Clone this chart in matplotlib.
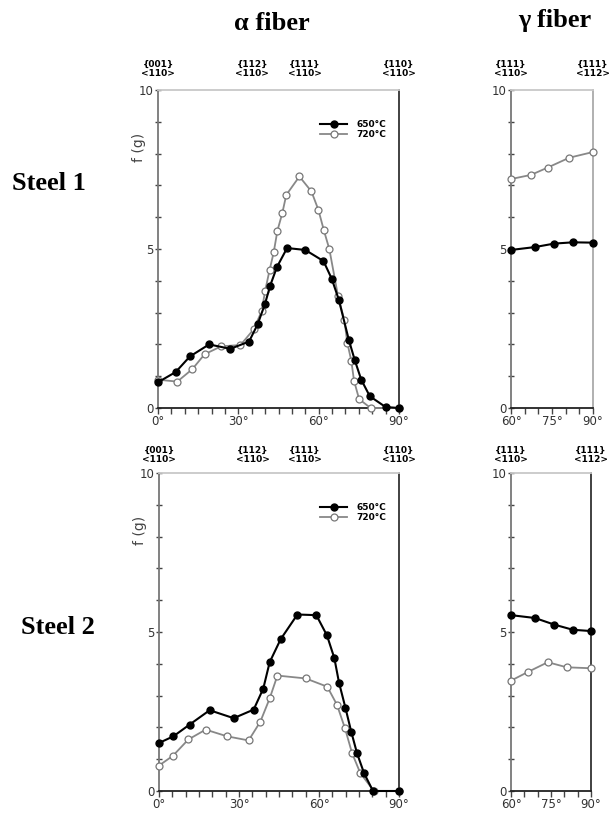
import matplotlib.pyplot as plt
import numpy as np

# alpha fiber, steel 1
a1_650_x = [0, 6.6, 11.9, 19.1, 27, 34, 37.2, 39.9, 41.9, 44.4, 48.2, 55, 61.8, 64.9,
            67.5, 71.3, 73.5, 75.9, 79.1, 85, 90]
a1_650_y = [0.81, 1.13, 1.62, 2.0, 1.86, 2.09, 2.63, 3.26, 3.85, 4.43, 5.03, 4.97, 4.62,
            4.06, 3.41, 2.13, 1.50, 0.89, 0.37, 0.03, 0.0]
a1_720_x = [0, 7.2, 12.8, 17.4, 23.6, 30.8, 35.7, 38.7, 40, 41.7, 43.2, 44.6, 46.4, 47.9,
            52.8, 57.3, 59.9, 61.9, 64, 67.2, 69.6, 70.7, 72.2, 73.2, 75.1, 79.4, 90]
a1_720_y = [0.89, 0.83, 1.22, 1.69, 1.94, 1.98, 2.47, 3.04, 3.68, 4.35, 4.89, 5.58, 6.12,
            6.70, 7.28, 6.81, 6.23, 5.60, 4.99, 3.53, 2.76, 2.05, 1.48, 0.86, 0.28, 0.0, 0.0]

# gamma fiber, steel 1
g1_650_x = [60, 68.7, 75.8, 82.7, 90]
g1_650_y = [4.97, 5.06, 5.17, 5.21, 5.20]
g1_720_x = [60, 67.3, 73.4, 81.3, 90]
g1_720_y = [7.2, 7.33, 7.56, 7.87, 8.05]

# alpha fiber, steel 2
a2_650_x = [0, 5.4, 11.5, 19, 28, 35.5, 39.1, 41.5, 45.6, 51.9, 59, 63, 65.75, 67.5,
            69.9, 72.1, 74.25, 76.9, 80.25, 90]
a2_650_y = [1.51, 1.72, 2.09, 2.54, 2.29, 2.56, 3.22, 4.05, 4.77, 5.55, 5.53, 4.89, 4.18,
            3.41, 2.62, 1.86, 1.19, 0.56, 0.0, 0.0]
a2_720_x = [0, 5.25, 11, 17.5, 25.5, 33.6, 38, 41.5, 44.4, 55, 63.1, 66.75, 69.75, 72.4,
            75.5, 80.6, 90]
a2_720_y = [0.80, 1.11, 1.62, 1.93, 1.72, 1.59, 2.18, 2.91, 3.63, 3.54, 3.28, 2.71, 1.97,
            1.19, 0.56, 0.0, 0.0]

# gamma fiber, steel 2
g2_650_x = [60, 69, 76.3, 83.2, 90]
g2_650_y = [5.53, 5.44, 5.23, 5.07, 5.03]
g2_720_x = [60, 66.5, 73.8, 80.9, 90]
g2_720_y = [3.47, 3.75, 4.05, 3.89, 3.86]

alpha_labels = [(0, '{001}\n<110>'), (35.26, '{112}\n<110>'), (54.74, '{111}\n<110>'),
                (90, '{110}\n<110>')]
gamma_labels = [(60, '{111}\n<110>'), (90, '{111}\n<112>')]

W, H = 610, 816
fig = plt.figure(figsize=(W / 100, H / 100), dpi=100)


def px_axes(l, t, r, b):
    return fig.add_axes([l / W, 1 - b / H, (r - l) / W, (b - t) / H])


def style(ax, xmin, xmax, xmajor, right_col):
    ax.set_xlim(xmin, xmax)
    ax.set_ylim(0, 10)
    ax.set_xticks(np.arange(xmin, xmax + 1, xmajor))
    ax.set_xticklabels(['%d°' % v for v in np.arange(xmin, xmax + 1, xmajor)])
    ax.set_xticks(np.arange(xmin, xmax + 1, 5), minor=True)
    ax.set_yticks([0, 5, 10])
    ax.set_yticks(np.arange(0, 11, 1), minor=True)
    ax.tick_params(axis='both', which='both', colors='#444', labelcolor='#333',
                   labelsize=8.5, width=1)
    ax.tick_params(axis='x', which='both', direction='out', length=4, pad=1)
    ax.tick_params(axis='y', which='both', direction='inout', length=5, pad=1)
    ax.spines['left'].set_color('#777')
    ax.spines['bottom'].set_color('#222')
    ax.spines['top'].set_color('#c8c8c8')
    ax.spines['right'].set_color(right_col)
    for s in ax.spines.values():
        s.set_linewidth(1.3)


def draw(ax, x650, y650, x720, y720, legend):
    ax.plot(x720, y720, color='#888', lw=1.3, marker='o', ms=5, mfc='white',
            mec='#777', mew=0.9, label='720°C', clip_on=False, zorder=3)
    ax.plot(x650, y650, color='black', lw=1.5, marker='o', ms=5, mfc='black',
            mec='black', label='650°C', clip_on=False, zorder=4)
    if legend:
        h, l = ax.get_legend_handles_labels()
        ax.legend(h[::-1], l[::-1], loc='upper right', bbox_to_anchor=(0.98, 0.93),
                  frameon=False, handlelength=3, labelspacing=0.05,
                  handletextpad=1.0, prop={'size': 6.5, 'weight': 'bold'})


def orient(ax, labels, y):
    for x, t in labels:
        ax.text(x, y, t, transform=ax.get_xaxis_transform(), ha='center',
                va='center', fontsize=6.5, fontweight='bold', linespacing=1.0,
                family='DejaVu Sans')


a1 = px_axes(158, 90, 399, 408)
g1 = px_axes(511, 90, 593, 408)
a2 = px_axes(159, 473, 399, 791)
g2 = px_axes(511, 473, 591, 791)

style(a1, 0, 90, 30, '#333')
style(g1, 60, 90, 15, '#aaa')
style(a2, 0, 90, 30, '#333')
style(g2, 60, 90, 15, '#333')

draw(a1, a1_650_x, a1_650_y, a1_720_x, a1_720_y, True)
draw(g1, g1_650_x, g1_650_y, g1_720_x, g1_720_y, False)
draw(a2, a2_650_x, a2_650_y, a2_720_x, a2_720_y, True)
draw(g2, g2_650_x, g2_650_y, g2_720_x, g2_720_y, False)

for ax, y in ((a1, 1.065), (g1, 1.065), (a2, 1.057), (g2, 1.057)):
    orient(ax, gamma_labels if ax in (g1, g2) else alpha_labels, y)

for ax in (a1, a2):
    ax.set_ylabel('f (g)', color='#444', fontsize=10, labelpad=-2)
    ax.yaxis.set_label_coords(-0.05, 0.82)

serif = 'Liberation Serif'
fig.text(272 / W, 1 - 23 / H, 'α fiber', ha='center', va='center', fontsize=19,
         fontweight='bold', family=serif)
fig.text(555 / W, 1 - 20 / H, 'γ fiber', ha='center', va='center', fontsize=19,
         fontweight='bold', family=serif)
fig.text(49 / W, 1 - 183 / H, 'Steel 1', ha='center', va='center', fontsize=19,
         fontweight='bold', family=serif)
fig.text(58 / W, 1 - 628 / H, 'Steel 2', ha='center', va='center', fontsize=19,
         fontweight='bold', family=serif)

fig.savefig('out.png', dpi=100, facecolor='white')
